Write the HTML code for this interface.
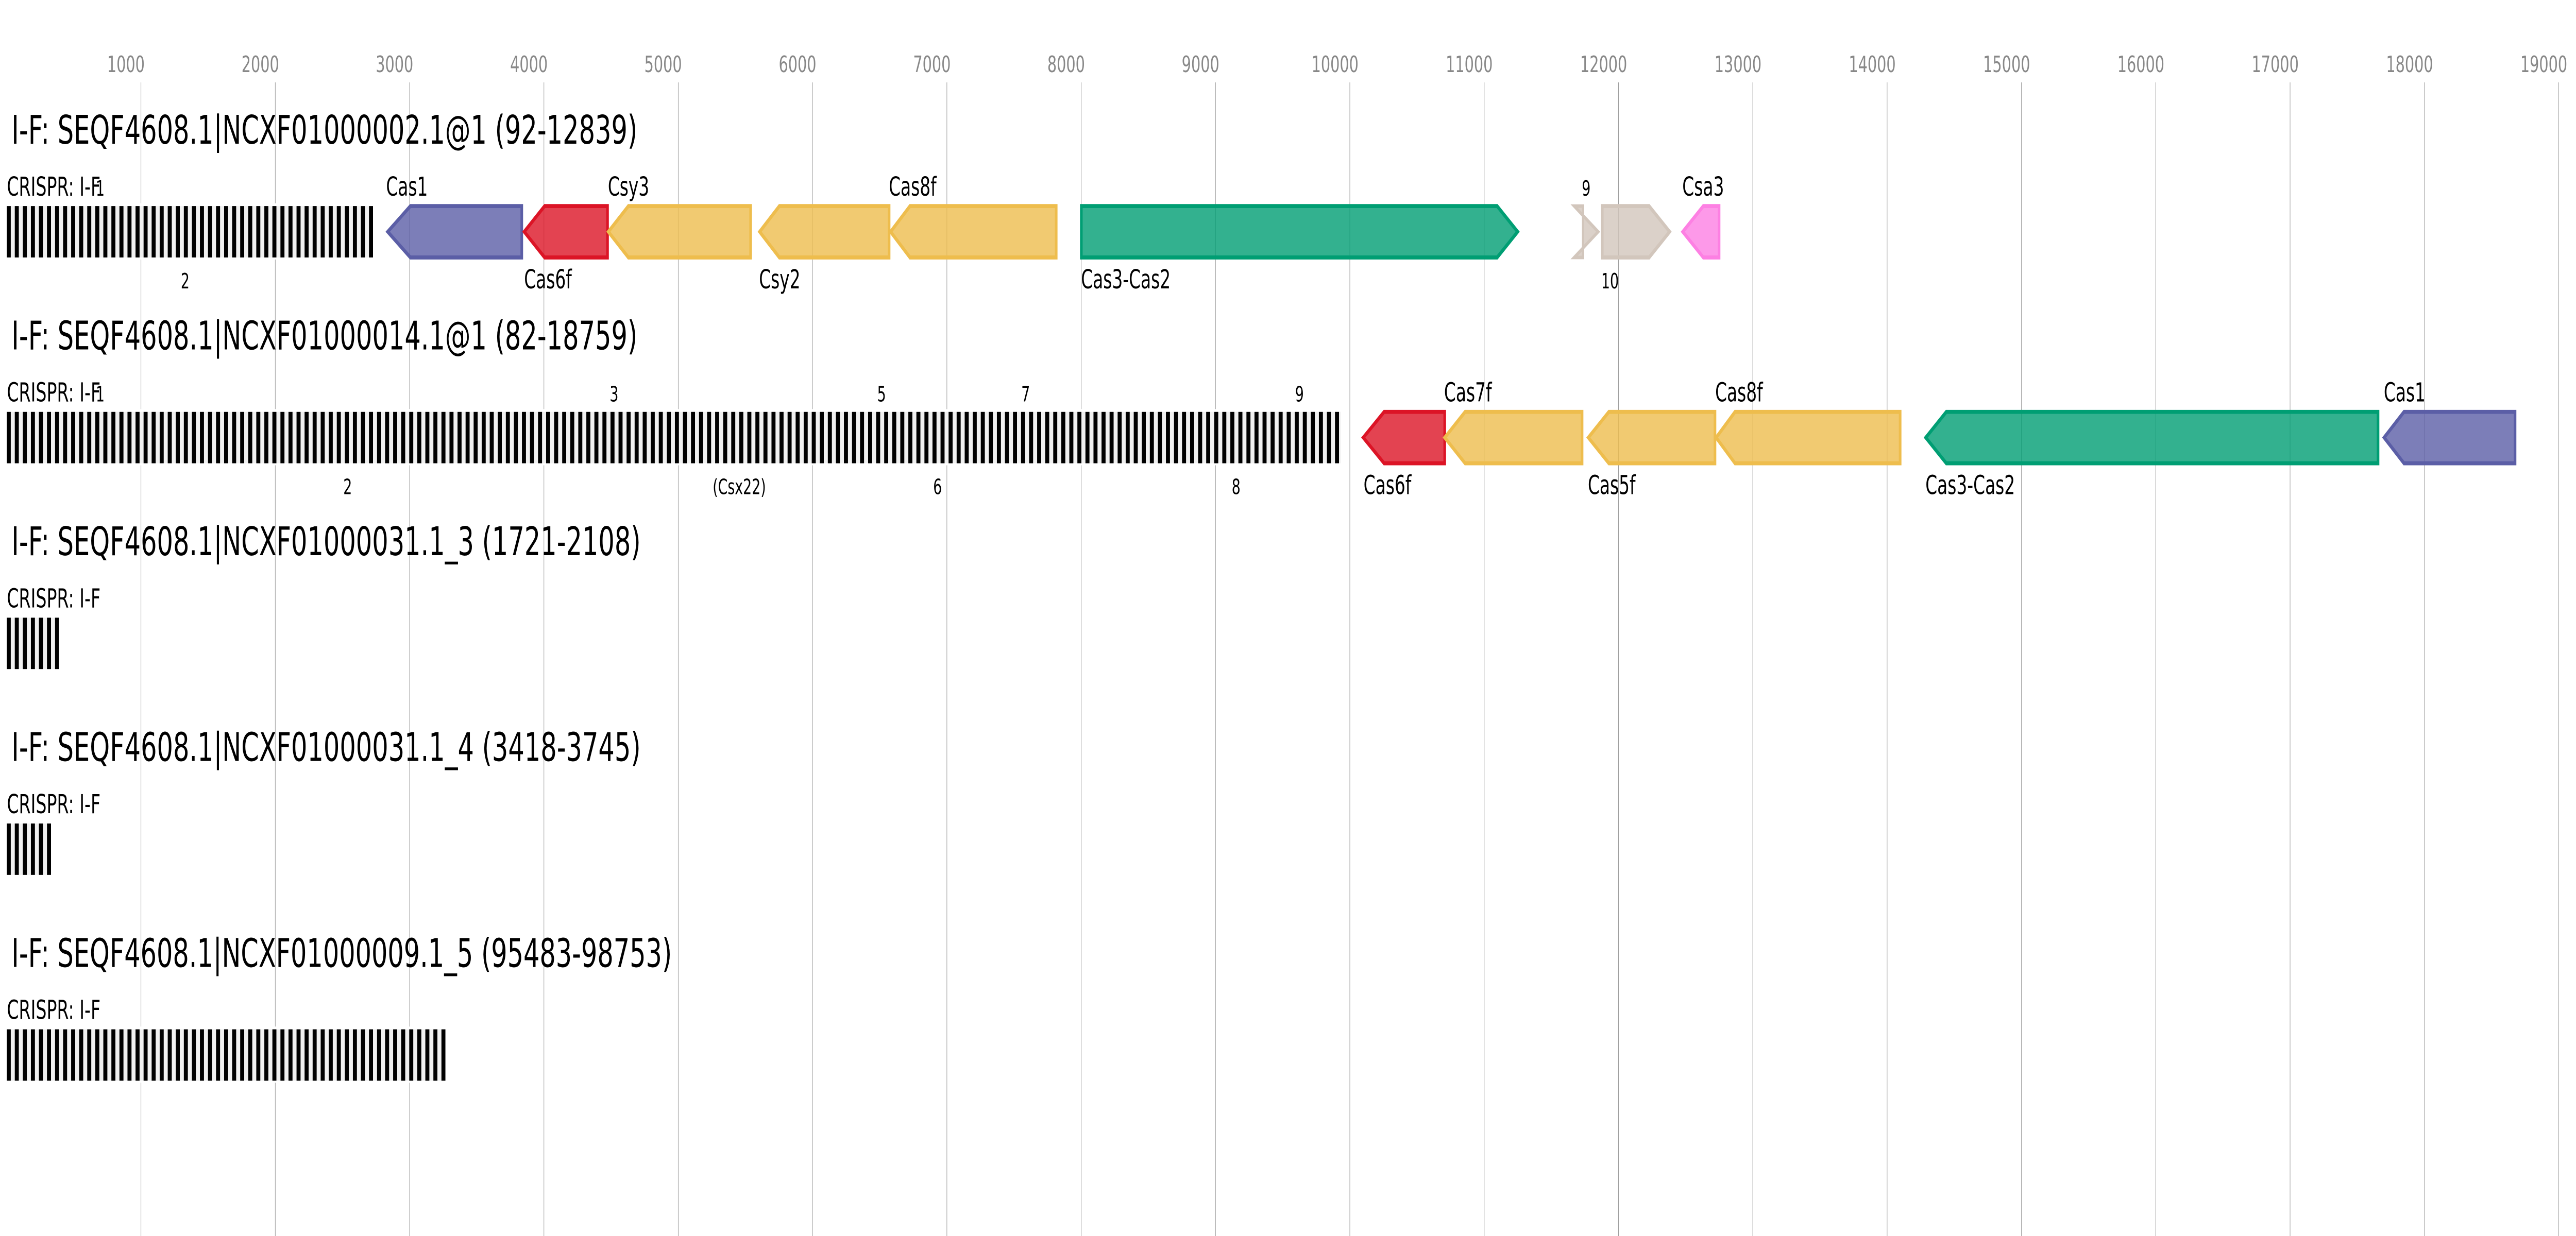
<!DOCTYPE html>
<html><head><meta charset="utf-8"><style>
html,body{margin:0;padding:0;background:#fff;width:100%;height:100%;overflow:hidden;}
svg{display:block;width:100vw;height:100vh;}
text{font-family:"DejaVu Sans","Liberation Sans",sans-serif;}
</style></head><body>
<svg viewBox="0 0 1568 490.64" preserveAspectRatio="none" xmlns="http://www.w3.org/2000/svg">
<defs>
<pattern id="bars" patternUnits="userSpaceOnUse" x="4.1" y="0" width="4.9" height="500">
<rect x="0" y="0" width="4.9" height="500" fill="#f0f0f0"/>
<rect x="0" y="0" width="2.45" height="500" fill="#000"/>
</pattern>
</defs>
<rect x="0" y="0" width="1568" height="490.64" fill="#fff"/>
<g stroke="#999" stroke-width="0.3">
<line x1="85.8" y1="32.7" x2="85.8" y2="490.64"/>
<line x1="167.56" y1="32.7" x2="167.56" y2="490.64"/>
<line x1="249.32" y1="32.7" x2="249.32" y2="490.64"/>
<line x1="331.08" y1="32.7" x2="331.08" y2="490.64"/>
<line x1="412.84" y1="32.7" x2="412.84" y2="490.64"/>
<line x1="494.6" y1="32.7" x2="494.6" y2="490.64"/>
<line x1="576.36" y1="32.7" x2="576.36" y2="490.64"/>
<line x1="658.12" y1="32.7" x2="658.12" y2="490.64"/>
<line x1="739.88" y1="32.7" x2="739.88" y2="490.64"/>
<line x1="821.64" y1="32.7" x2="821.64" y2="490.64"/>
<line x1="903.4" y1="32.7" x2="903.4" y2="490.64"/>
<line x1="985.16" y1="32.7" x2="985.16" y2="490.64"/>
<line x1="1066.92" y1="32.7" x2="1066.92" y2="490.64"/>
<line x1="1148.68" y1="32.7" x2="1148.68" y2="490.64"/>
<line x1="1230.44" y1="32.7" x2="1230.44" y2="490.64"/>
<line x1="1312.2" y1="32.7" x2="1312.2" y2="490.64"/>
<line x1="1393.96" y1="32.7" x2="1393.96" y2="490.64"/>
<line x1="1475.72" y1="32.7" x2="1475.72" y2="490.64"/>
<line x1="1557.48" y1="32.7" x2="1557.48" y2="490.64"/>
</g>
<g fill="#888" font-size="9">
<text x="65.2" y="28.6">1000</text>
<text x="147" y="28.6">2000</text>
<text x="228.7" y="28.6">3000</text>
<text x="310.5" y="28.6">4000</text>
<text x="392.2" y="28.6">5000</text>
<text x="474" y="28.6">6000</text>
<text x="555.8" y="28.6">7000</text>
<text x="637.5" y="28.6">8000</text>
<text x="719.3" y="28.6">9000</text>
<text x="798.3" y="28.6">10000</text>
<text x="880" y="28.6">11000</text>
<text x="961.8" y="28.6">12000</text>
<text x="1043.6" y="28.6">13000</text>
<text x="1125.3" y="28.6">14000</text>
<text x="1207.1" y="28.6">15000</text>
<text x="1288.8" y="28.6">16000</text>
<text x="1370.6" y="28.6">17000</text>
<text x="1452.4" y="28.6">18000</text>
<text x="1534.1" y="28.6">19000</text>
</g>

<g fill="#fff">
<rect x="3" y="80.7" width="226" height="22.3"/>
<rect x="3" y="162.4" width="815" height="22.3"/>
<rect x="3" y="244.1" width="34" height="22.3"/>
<rect x="3" y="325.8" width="29" height="22.3"/>
<rect x="3" y="407.5" width="270" height="22.3"/>
</g>

<g fill="#000" font-size="15.6">
<text x="7" y="57" textLength="381" lengthAdjust="spacingAndGlyphs">I-F: SEQF4608.1|NCXF01000002.1@1 (92-12839)</text>
<text x="7" y="138.7" textLength="381" lengthAdjust="spacingAndGlyphs">I-F: SEQF4608.1|NCXF01000014.1@1 (82-18759)</text>
<text x="7" y="220.4" textLength="383" lengthAdjust="spacingAndGlyphs">I-F: SEQF4608.1|NCXF01000031.1_3 (1721-2108)</text>
<text x="7" y="302.1" textLength="383" lengthAdjust="spacingAndGlyphs">I-F: SEQF4608.1|NCXF01000031.1_4 (3418-3745)</text>
<text x="7" y="383.8" textLength="402" lengthAdjust="spacingAndGlyphs">I-F: SEQF4608.1|NCXF01000009.1_5 (95483-98753)</text>
</g>
<g fill="#000" font-size="10.3">
<text x="4.2" y="77.7" textLength="57" lengthAdjust="spacingAndGlyphs">CRISPR: I-F</text>
<text x="4.2" y="159.4" textLength="57" lengthAdjust="spacingAndGlyphs">CRISPR: I-F</text>
<text x="4.2" y="241.1" textLength="57" lengthAdjust="spacingAndGlyphs">CRISPR: I-F</text>
<text x="4.2" y="322.8" textLength="57" lengthAdjust="spacingAndGlyphs">CRISPR: I-F</text>
<text x="4.2" y="404.5" textLength="57" lengthAdjust="spacingAndGlyphs">CRISPR: I-F</text>
</g>

<rect x="4.1" y="81.8" width="222.95" height="20.4" fill="url(#bars)"/>
<rect x="4.1" y="163.5" width="811.95" height="20.4" fill="url(#bars)"/>
<rect x="4.1" y="245.2" width="31.85" height="20.4" fill="url(#bars)"/>
<rect x="4.1" y="326.9" width="26.95" height="20.4" fill="url(#bars)"/>
<rect x="4.1" y="408.6" width="267.05" height="20.4" fill="url(#bars)"/>

<g fill="#000" font-size="8.4" text-anchor="middle">
<text x="61" y="77.7">1</text>
<text x="112.7" y="114.5">2</text>
<text x="965.5" y="77.7">9</text>
<text x="980" y="114.5">10</text>
<text x="61" y="159.4">1</text>
<text x="211.6" y="196.2">2</text>
<text x="373.8" y="159.4">3</text>
<text x="450" y="196.2">(Csx22)</text>
<text x="536.6" y="159.4">5</text>
<text x="570.7" y="196.2">6</text>
<text x="624.3" y="159.4">7</text>
<text x="752.4" y="196.2">8</text>
<text x="791" y="159.4">9</text>
</g>

<g stroke-width="1.6" stroke-linejoin="miter">
<polygon points="236,92 249.8,81.8 317.6,81.8 317.6,102.2 249.8,102.2" fill="#5b5ea6" fill-opacity="0.8" stroke="#5b5ea6"/>
<polygon points="319.1,92 331.5,81.8 369.8,81.8 369.8,102.2 331.5,102.2" fill="#dc1426" fill-opacity="0.8" stroke="#dc1426"/>
<polygon points="370.3,92 382.5,81.8 456.9,81.8 456.9,102.2 382.5,102.2" fill="#eebd4d" fill-opacity="0.8" stroke="#eebd4d"/>
<polygon points="462.4,92 474.4,81.8 541.2,81.8 541.2,102.2 474.4,102.2" fill="#eebd4d" fill-opacity="0.8" stroke="#eebd4d"/>
<polygon points="542.1,92 553.9,81.8 642.9,81.8 642.9,102.2 553.9,102.2" fill="#eebd4d" fill-opacity="0.8" stroke="#eebd4d"/>
<polygon points="658.2,81.8 911.3,81.8 923.8,92 911.3,102.2 658.2,102.2" fill="#009e73" fill-opacity="0.8" stroke="#009e73"/>
<polygon points="963.6,81.8 958.2,81.8 972.8,92 958.2,102.2 963.6,102.2" fill="#d2c6bc" fill-opacity="0.8" stroke="#d2c6bc" stroke-width="1.4"/>
<polygon points="975.3,81.8 1003.8,81.8 1016.3,92 1003.8,102.2 975.3,102.2" fill="#d2c6bc" fill-opacity="0.8" stroke="#d2c6bc"/>
<polygon points="1024.3,92 1036.8,81.8 1046.4,81.8 1046.4,102.2 1036.8,102.2" fill="#fd80e3" fill-opacity="0.8" stroke="#fd80e3"/>
</g>
<g fill="#000" font-size="10.3">
<text x="235" y="77.7">Cas1</text>
<text x="319" y="114.5">Cas6f</text>
<text x="370" y="77.7">Csy3</text>
<text x="462" y="114.5">Csy2</text>
<text x="541" y="77.7">Cas8f</text>
<text x="658" y="114.5">Cas3-Cas2</text>
<text x="1024" y="77.7">Csa3</text>
</g>

<g stroke-width="1.6">
<polygon points="829.8,173.7 842.5,163.5 879.4,163.5 879.4,183.9 842.5,183.9" fill="#dc1426" fill-opacity="0.8" stroke="#dc1426"/>
<polygon points="879.4,173.7 891.8,163.5 963,163.5 963,183.9 891.8,183.9" fill="#eebd4d" fill-opacity="0.8" stroke="#eebd4d"/>
<polygon points="966.8,173.7 979.3,163.5 1043.9,163.5 1043.9,183.9 979.3,183.9" fill="#eebd4d" fill-opacity="0.8" stroke="#eebd4d"/>
<polygon points="1044.6,173.7 1056.1,163.5 1156.6,163.5 1156.6,183.9 1056.1,183.9" fill="#eebd4d" fill-opacity="0.8" stroke="#eebd4d"/>
<polygon points="1172.2,173.7 1184.7,163.5 1447.5,163.5 1447.5,183.9 1184.7,183.9" fill="#009e73" fill-opacity="0.8" stroke="#009e73"/>
<polygon points="1451.2,173.7 1463.3,163.5 1530.9,163.5 1530.9,183.9 1463.3,183.9" fill="#5b5ea6" fill-opacity="0.8" stroke="#5b5ea6"/>
</g>
<g fill="#000" font-size="10.3">
<text x="830" y="196.2">Cas6f</text>
<text x="879" y="159.4">Cas7f</text>
<text x="966.5" y="196.2">Cas5f</text>
<text x="1044" y="159.4">Cas8f</text>
<text x="1172" y="196.2">Cas3-Cas2</text>
<text x="1451" y="159.4">Cas1</text>
</g>
</svg>
</body></html>
